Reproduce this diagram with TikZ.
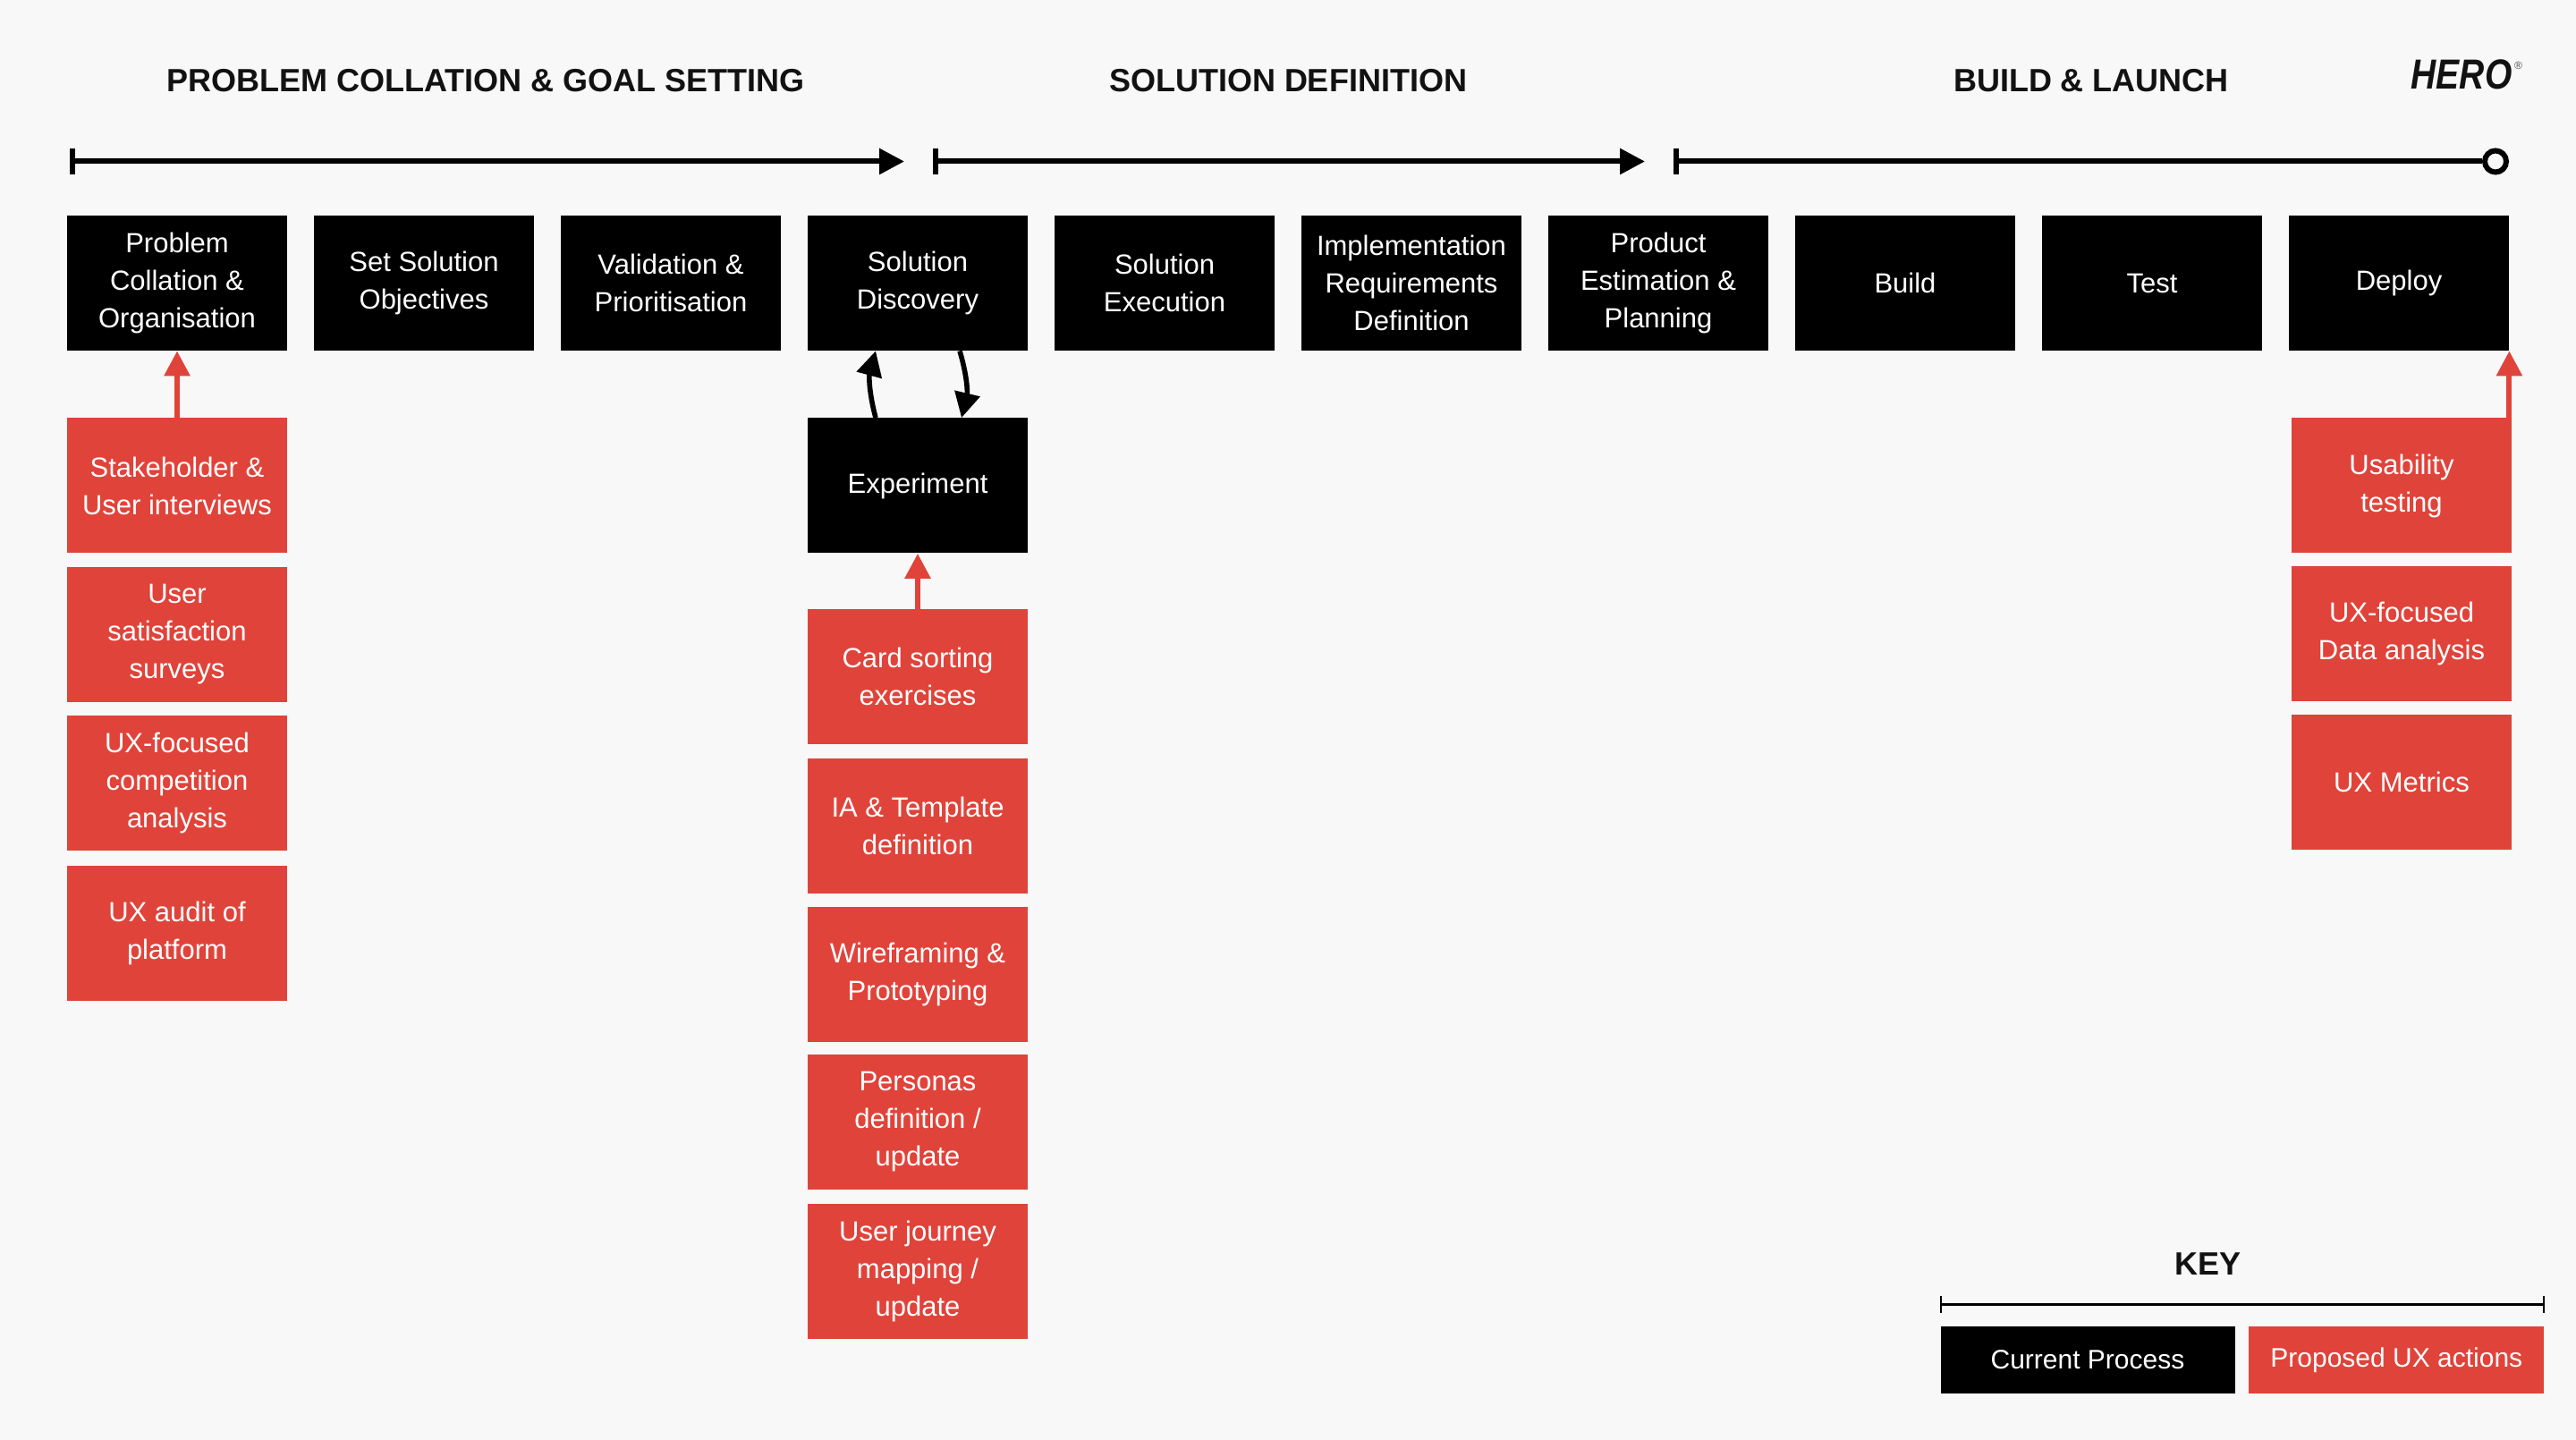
\documentclass[tikz,border=0pt]{standalone}
\usepackage{fontspec}
\setmainfont{Liberation Sans}
\newfontfamily\herofont[FakeStretch=0.83]{Liberation Sans}
\usetikzlibrary{backgrounds,positioning,arrows.meta}
\definecolor{paper}{HTML}{F8F8F8}
\definecolor{uxred}{HTML}{E0433A}
\definecolor{railgrey}{HTML}{B9BCC8}
\tikzstyle{block} = [rectangle, fill=black, text=white, inner sep=0pt, minimum width=123pt, minimum height=75.5pt, align=center, font=\fontsize{15.5}{21}\selectfont]
\tikzstyle{action} = [block, fill=uxred]
\tikzstyle{keybox} = [block, minimum height=37.5pt, font=\fontsize{15}{21}\selectfont]
\tikzstyle{title} = [font=\fontsize{18}{22}\selectfont\bfseries, text=black!93]
\tikzstyle{phase} = [line width=3pt, {Bar[width=14.5pt,line width=3pt]}-{Triangle[length=14pt,width=14pt]}]
\tikzstyle{rail} = [line width=4.5pt, railgrey]
\tikzstyle{link} = [line width=3pt, uxred]
\tikzstyle{linkup} = [link, -{Triangle[length=14pt,width=14pt]}]
\tikzstyle{loopback} = [line width=2.8pt, -{Triangle[length=14pt,width=14pt]}]

\begin{document}
\begin{tikzpicture}[auto, node distance=138pt]

\fill [paper] (-99pt,158.25pt) rectangle (1341pt,-646.75pt);

% current process
\node [block] (problem) {Problem\\Collation \&\\Organisation};
\node [block, right of=problem] (objectives) {Set Solution\\Objectives};
\node [block, right of=objectives] (validation) {Validation \&\\Prioritisation};
\node [block, right of=validation] (discovery) {Solution\\Discovery};
\node [block, right of=discovery] (execution) {Solution\\Execution};
\node [block, right of=execution] (requirements) {Implementation\\Requirements\\Definition};
\node [block, right of=requirements] (estimation) {Product\\Estimation \&\\Planning};
\node [block, right of=estimation] (build) {Build};
\node [block, right of=build] (test) {Test};
\node [block, right of=test] (deploy) {Deploy};
\node [block, below of=discovery, node distance=113.25pt] (experiment) {Experiment};

% left column
\node [action, below of=problem, node distance=113.25pt] (interviews) {Stakeholder \&\\User interviews};
\node [action, below of=interviews, node distance=83.25pt] (surveys) {User\\satisfaction\\surveys};
\node [action, below of=surveys, node distance=83pt] (competition) {UX-focused\\competition\\analysis};
\node [action, below of=competition, node distance=83.75pt] (audit) {UX audit of\\platform};

% middle column
\node [action, below of=experiment, node distance=106.75pt] (cards) {Card sorting\\exercises};
\node [action, below of=cards, node distance=83.25pt] (template) {IA \& Template\\definition};
\node [action, below of=template, node distance=83.25pt] (wireframing) {Wireframing \&\\Prototyping};
\node [action, below of=wireframing, node distance=82.5pt] (personas) {Personas\\definition /\\update};
\node [action, below of=personas, node distance=83.5pt] (journey) {User journey\\mapping /\\update};

% right column
\node [action, below of=deploy, node distance=113.25pt, xshift=1.5pt] (usability) {Usability\\testing};
\node [action, below of=usability, node distance=82.75pt] (data) {UX-focused\\Data analysis};
\node [action, below of=data, node distance=83pt] (metrics) {UX Metrics};

% phase headings
\node [title, xshift=172.5pt, yshift=113.25pt] (phaseone) at (problem) {PROBLEM COLLATION \& GOAL SETTING};
\node [title, xshift=621pt, yshift=113.25pt] (phasetwo) at (problem) {SOLUTION DEFINITION};
\node [title, xshift=1070pt, yshift=113.25pt] (phasethree) at (problem) {BUILD \& LAUNCH};
\node [xshift=1277pt, yshift=116.5pt, font=\herofont\fontsize{23.5}{24}\selectfont\bfseries\itshape, text=black!93, inner sep=0pt] (hero) at (problem) {HERO};
\node [right=1pt of hero.north east, anchor=north west, yshift=-1pt, font=\fontsize{6}{7}\selectfont, text=black!70, inner sep=0pt] (registered) {®};

\node [coordinate, xshift=-60pt, yshift=68pt] (onestart) at (problem) {};
\node [coordinate, xshift=406.5pt, yshift=68pt] (oneend) at (problem) {};
\node [coordinate, xshift=422.5pt, yshift=68pt] (twostart) at (problem) {};
\node [coordinate, xshift=820.5pt, yshift=68pt] (twoend) at (problem) {};
\node [coordinate, xshift=836.5pt, yshift=68pt] (threestart) at (problem) {};
\node [circle, draw, line width=3pt, fill=paper, minimum size=12pt, inner sep=0pt, xshift=1296pt, yshift=68pt] (finish) at (problem) {};

\draw [phase] (onestart) -- (oneend);
\draw [phase] (twostart) -- (twoend);
\draw [line width=3pt, {Bar[width=14.5pt,line width=3pt]}-] (threestart) -- (finish);

% key
\node [keybox, minimum width=164.5pt, xshift=1068pt, yshift=-602pt] (current) at (problem) {Current Process};
\node [keybox, fill=uxred, minimum width=165pt, right=7.5pt of current] (proposed) {Proposed UX actions};
\node [title, xshift=1135pt, yshift=-548.25pt] (key) at (problem) {KEY};
\node [coordinate, yshift=12.25pt] (keystart) at (current.north west) {};
\node [coordinate, yshift=12.25pt] (keyend) at (proposed.north east) {};
\draw [line width=1.4pt, {Bar[width=9.5pt,line width=1pt]}-{Bar[width=9.5pt,line width=1pt]}] (keystart) -- (keyend);

\begin{scope}[on background layer]
\fill [paper] (-99pt,158.25pt) rectangle (1341pt,-646.75pt);
\draw [rail] (problem) -- (deploy);
\draw [link] (interviews) -- (surveys);
\draw [link] (surveys) -- (competition);
\draw [link] (competition) -- (audit);
\draw [link] (cards) -- (template);
\draw [link] (template) -- (wireframing);
\draw [link] (wireframing) -- (personas);
\draw [link] (personas) -- (journey);
\draw [link] ([xshift=-1.5pt]data.north east) -- ([xshift=-1.5pt]usability.south east);
\draw [link] ([xshift=-1.5pt]metrics.north east) -- ([xshift=-1.5pt]data.south east);
\end{scope}

\draw [linkup] (interviews) -- (problem.south);
\draw [linkup] (cards) -- (experiment.south);
\draw [linkup] ([xshift=-1.5pt]usability.north east) -- (deploy.south east);
\draw [loopback] ([xshift=-23.5pt]experiment.north) to [bend left=15] ([xshift=-23.5pt]discovery.south);
\draw [loopback] ([xshift=23.5pt]discovery.south) to [bend left=15] ([xshift=24.5pt]experiment.north);

\end{tikzpicture}
\end{document}
